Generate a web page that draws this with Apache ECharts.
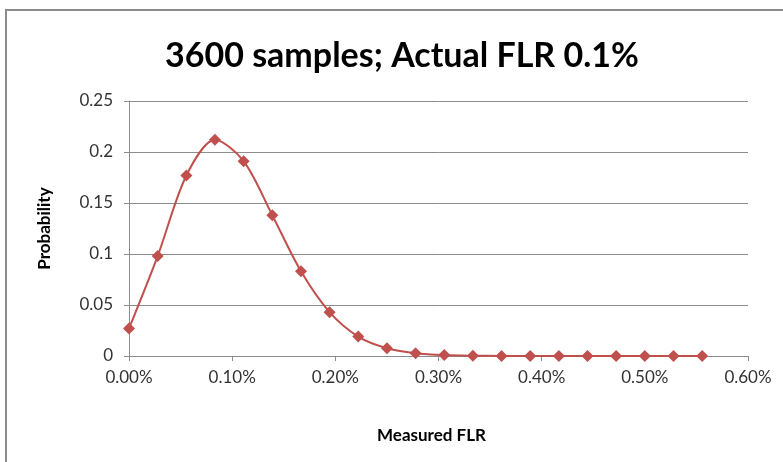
<!DOCTYPE html>
<html>
<head>
<meta charset="utf-8">
<script src="https://cdn.jsdelivr.net/npm/echarts@6/dist/echarts.min.js"></script>
<style>
  html, body { margin: 0; padding: 0; background: #fff; }
  #chart { width: 783px; height: 462px; }
</style>
</head>
<body>
<div id="chart"></div>
<script>
// measured FLR (fraction) for k failures out of 3600 samples
const measuredFlr = [0, 0.000278, 0.000556, 0.000833, 0.001111, 0.001389, 0.001667,
  0.001944, 0.002222, 0.0025, 0.002778, 0.003056, 0.003333, 0.003611, 0.003889,
  0.004167, 0.004444, 0.004722, 0.005, 0.005278, 0.005556];
const probability = [0.027, 0.098, 0.177, 0.212, 0.191, 0.138, 0.083, 0.043, 0.019,
  0.0076, 0.0028, 0.0009, 0.0003, 0.0001, 0, 0, 0, 0, 0, 0, 0];

const font = 'Lato, "Open Sans", sans-serif';
const chart = echarts.init(document.getElementById('chart'));

chart.setOption({
  animation: false,
  backgroundColor: '#fff',
  title: {
    text: '3600 samples; Actual FLR 0.1%',
    left: 160,
    top: 34,
    textStyle: { fontFamily: font, fontSize: 34, fontWeight: 'bold', color: '#000' }
  },
  graphic: [{
    type: 'rect',
    shape: { x: 6, y: 10, width: 800, height: 480 },
    style: { fill: 'none', stroke: '#8c8c8c', lineWidth: 2 },
    silent: true
  }],
  grid: { left: 129, right: 35, top: 101, bottom: 106 },
  xAxis: {
    type: 'value',
    min: 0,
    max: 0.006,
    interval: 0.001,
    name: 'Measured FLR',
    nameLocation: 'middle',
    nameGap: 71,
    nameTextStyle: {
      fontFamily: font, fontSize: 17, fontWeight: 'bold', color: '#000',
      padding: [0, 14, 0, 0]
    },
    axisLine: { show: true, lineStyle: { color: '#8c8c8c' } },
    axisTick: { show: true, length: 5, lineStyle: { color: '#8c8c8c' } },
    splitLine: { show: false },
    axisLabel: {
      fontFamily: font, fontSize: 17, color: '#333', margin: 13,
      formatter: v => (v * 100).toFixed(2) + '%'
    }
  },
  yAxis: {
    type: 'value',
    min: 0,
    max: 0.25,
    interval: 0.05,
    name: 'Probability',
    nameLocation: 'middle',
    nameGap: 76,
    nameRotate: 90,
    nameTextStyle: { fontFamily: font, fontSize: 17, fontWeight: 'bold', color: '#000' },
    axisLine: { show: true, lineStyle: { color: '#8c8c8c' } },
    axisTick: { show: true, length: 5, lineStyle: { color: '#8c8c8c' } },
    splitLine: { show: true, lineStyle: { color: '#8c8c8c' } },
    axisLabel: {
      fontFamily: font, fontSize: 17, color: '#333', margin: 16,
      formatter: v => String(+v.toFixed(2))
    }
  },
  series: [{
    type: 'line',
    data: measuredFlr.map((x, i) => [x, probability[i]]),
    smooth: 0.3,
    symbol: 'diamond',
    symbolSize: 12,
    lineStyle: { color: '#c0504d', width: 2 },
    itemStyle: { color: '#c0504d' }
  }]
});
</script>
</body>
</html>
